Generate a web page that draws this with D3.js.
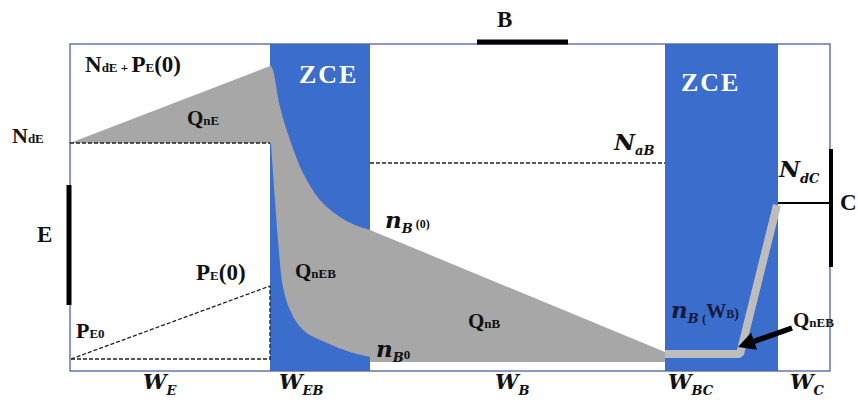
<!DOCTYPE html>
<html><head><meta charset="utf-8">
<script src="https://cdn.jsdelivr.net/npm/d3@7"></script>
<style>body{margin:0;background:#fff}svg{display:block}</style>
</head><body>
<script>
// ---------- data (positions along the device in µm-like units, concentrations in arbitrary units) ----------
const regionNames = ["W_E","W_EB","W_B","W_BC","W_C"];
const regionBounds = [0, 200, 300, 595, 708, 760];      // boundaries of E, ZCE-EB, B, ZCE-BC, C
const zceRegions = [[200, 300], [595, 708]];
const levels = { NdE: 228, NdE_PE0: 305, NaB: 208, nB0_level: 141, PE0: 85, PEeq: 12, NdC: 168, nBeq: 9, nBW: 17 };
// injected electron profile through the emitter-base depletion region
const zceEBTop = [[201,305],[203,301],[210,264],[220,231],[233,198],[250,171],[270,154],[285,146],[300,141]];
const zceEBBottom = [[300,14],[280,19],[257,28],[233,41],[220,61],[213,84],[208,131],[205,171],[201,228]];
// base profile (linear)
const baseTop = [[300,141],[595,19]];
// collector side profile (thin band)
const zceBCBand = [[595,17],[670,17],[707,166]];

const W = 858, H = 405;
const x = d3.scaleLinear().domain([0, 760]).range([70, 830]);
const y = d3.scaleLinear().domain([0, 327]).range([371, 44]);

const svg = d3.select("body").append("svg").attr("width", W).attr("height", H);
const BLUE = "#3b6dcc", GRAY = "#a7a7a7";
const SERIF = "'Liberation Serif','Times New Roman',serif";
const MATH = "'DejaVu Serif',serif";

// ZCE regions
svg.selectAll("rect.zce").data(zceRegions).join("rect").attr("class","zce")
  .attr("x", d => x(d[0])).attr("y", y(327)).attr("width", d => x(d[1]) - x(d[0]))
  .attr("height", y(0) - y(327)).attr("fill", BLUE);

// frame
svg.append("rect").attr("x", x(0)).attr("y", y(327)).attr("width", x(760)-x(0)).attr("height", y(0)-y(327))
  .attr("fill","none").attr("stroke","#5060a8").attr("stroke-width",1.3);

// gray charge region
const lin = d3.line().x(d => x(d[0])).y(d => y(d[1]));
const crv = d3.line().x(d => x(d[0])).y(d => y(d[1])).curve(d3.curveCatmullRom);
const seg = (gen, pts) => gen(pts).replace(/^M/, "L");
let dPath = lin([[0, levels.NdE], [200, levels.NdE_PE0]])
  + seg(crv, zceEBTop)
  + seg(lin, [baseTop[1], [595, levels.nBeq], [300, levels.nBeq]])
  + seg(crv, zceEBBottom)
  + "Z";
svg.append("path").attr("d", dPath).attr("fill", GRAY);

// collector-side band
svg.append("path").attr("d", lin(zceBCBand)).attr("fill","none").attr("stroke","#bdbdbd")
  .attr("stroke-width",8).attr("stroke-linejoin","bevel");

// dashed lines
const dash = (pts) => svg.append("path").attr("d", lin(pts)).attr("fill","none")
  .attr("stroke","#222").attr("stroke-width",1.3).attr("stroke-dasharray","4,2");
dash([[0, levels.NdE], [200, levels.NdE]]);
dash([[300, levels.NaB], [595, levels.NaB]]);
dash([[1, levels.PEeq], [200, levels.PE0]]);
dash([[1, levels.PEeq], [200, levels.PEeq], [200, levels.PE0]]);

// contacts
const solid = (pts, w) => svg.append("path").attr("d", lin(pts)).attr("fill","none").attr("stroke","#000").attr("stroke-width", w);
solid([[407, 329], [498, 329]], 5);            // base contact
solid([[-1, 186], [-1, 66]], 5);               // emitter contact
solid([[761, 222], [761, 104]], 4);            // collector contact
solid([[708, levels.NdC], [761, levels.NdC]], 2);

// arrow
const ax0 = x(722), ay0 = y(43), ax1 = x(668), ay1 = y(24);
const ang = Math.atan2(ay1 - ay0, ax1 - ax0);
const hl = 17, hw = 9;
const bx = ax1 - hl*Math.cos(ang), by = ay1 - hl*Math.sin(ang);
svg.append("line").attr("x1",ax0).attr("y1",ay0).attr("x2",bx).attr("y2",by).attr("stroke","#000").attr("stroke-width",5.5);
svg.append("path").attr("d", `M${ax1},${ay1}L${bx - hw*Math.sin(ang)},${by + hw*Math.cos(ang)}L${bx + hw*Math.sin(ang)},${by - hw*Math.cos(ang)}Z`).attr("fill","#000");

// ---------- labels ----------
function label(px, py, parts, opts = {}) {
  const t = svg.append("text").attr("x", px).attr("y", py).attr("fill", opts.fill || "#111")
    .attr("font-family", opts.family || SERIF).attr("font-weight","bold")
    .attr("font-style", opts.italic ? "italic" : "normal");
  if (opts.ls) t.attr("letter-spacing", opts.ls);
  let cur = 0;
  parts.forEach(p => {
    const s = t.append("tspan").text(p[0]).attr("font-size", p[1]);
    const dy = (p[2] || 0) - cur; cur = p[2] || 0;
    if (dy) s.attr("dy", dy);
    if (p[3]) s.attr("font-family", p[3]);
    if (p[4]) s.attr("font-style", p[4]);
  });
  return t;
}
label(85, 72, [["N",23],["dE",13],[" + ",13],["P",23],["E",13],["(0)",23]]);
label(187, 125, [["Q",21],["nE",13]]);
label(12, 143, [["N",22],["dE",13]]);
label(299, 83, [["ZCE",26]], {fill:"#fff", ls:2});
label(681, 91, [["ZCE",26]], {fill:"#fff", ls:2});
label(497, 27, [["B",23]]);
label(37, 242, [["E",23]]);
label(840, 210, [["C",23]]);
label(614, 150, [["N",23],["aB",13,5]], {family: MATH, italic: true});
label(385, 228, [["n",23],["B",13,5],[" (0)",12,0,SERIF,"normal"]], {family: MATH, italic: true});
label(295, 278, [["Q",21],["nEB",13]]);
label(468, 328, [["Q",21],["nB",13]]);
label(376, 357, [["n",23],["B",13,5],["0",13,2,SERIF,"normal"]], {family: MATH, italic: true});
label(196, 280, [["P",23],["E",13],["(0)",23]]);
label(76, 338, [["P",22],["E0",13]]);
label(671, 318, [["n",23],["B",13,5],[" (",13,5,SERIF,"normal"],["W",20,0,SERIF,"normal"],["B",12,0,SERIF,"normal"],[")",14,0,SERIF,"normal"]], {family: MATH, italic: true, fill:"#141a40"});
label(793, 327, [["Q",21],["nEB",13]]);
label(779, 177, [["N",23],["dC",13,6]], {family: MATH, italic: true});

// region labels along the bottom
const wLabelX = [143, 279, 495, 668, 790];
regionNames.forEach((n, i) => {
  const [main, sub] = n.split("_");
  label(wLabelX[i], 389, [[main, 21], [sub, 13, 6]], {family: MATH, italic: true});
});
</script>
</body></html>
